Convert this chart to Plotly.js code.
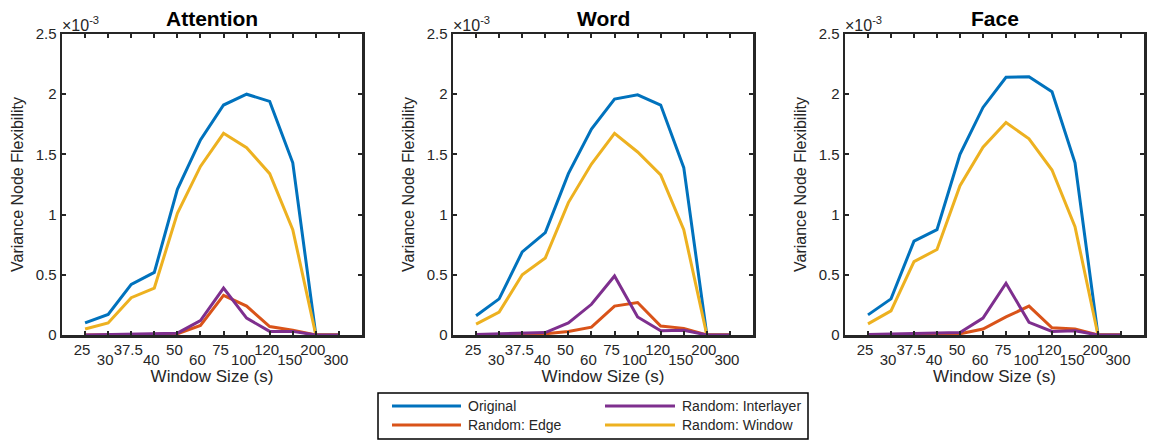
<!DOCTYPE html>
<html>
<head>
<meta charset="utf-8">
<script src="https://cdn.plot.ly/plotly-3.0.1.min.js"></script>
<style>html,body{margin:0;padding:0;background:#fff;}#chart{width:1149px;height:441px;}</style>
</head>
<body>
<div id="chart"></div>
<script>
// ---- data ----
const windowSizes = ["25","30","37.5","40","50","60","75","100","120","150","200","300"];
const panelTitles = ["Attention","Word","Face"];
const seriesNames = ["Original","Random: Edge","Random: Interlayer","Random: Window"];

// values in units of 1e-3
const attentionOriginal   = [0.10,0.17,0.42,0.52,1.21,1.62,1.91,2.00,1.94,1.43,0,0];
const attentionEdge       = [0.00,0.00,0.005,0.005,0.01,0.08,0.33,0.24,0.07,0.04,0,0];
const attentionInterlayer = [0.00,0.003,0.01,0.01,0.015,0.12,0.39,0.14,0.03,0.03,0,0];
const attentionWindow     = [0.05,0.10,0.31,0.39,1.01,1.40,1.675,1.555,1.34,0.875,0,0];

const wordOriginal   = [0.16,0.30,0.69,0.85,1.34,1.71,1.96,1.995,1.91,1.39,0,0];
const wordEdge       = [0.00,0.003,0.008,0.01,0.03,0.065,0.24,0.27,0.075,0.055,0,0];
const wordInterlayer = [0.005,0.01,0.02,0.02,0.10,0.255,0.49,0.15,0.035,0.04,0,0];
const wordWindow     = [0.09,0.19,0.50,0.64,1.10,1.42,1.675,1.52,1.33,0.875,0,0];

const faceOriginal   = [0.167,0.30,0.78,0.875,1.50,1.89,2.14,2.145,2.02,1.43,0,0];
const faceEdge       = [0.00,0.00,0.005,0.005,0.01,0.05,0.15,0.24,0.06,0.05,0,0];
const faceInterlayer = [0.005,0.008,0.015,0.02,0.02,0.14,0.43,0.105,0.03,0.035,0,0];
const faceWindow     = [0.092,0.20,0.61,0.71,1.24,1.56,1.765,1.63,1.37,0.90,0,0];

const yTickVals = [0,0.5,1,1.5,2,2.5];
const yTickText = ["0","0.5","1","1.5","2","2.5"];

// ---- styling ----
const colors = {"Original":"#0072BD","Random: Edge":"#D95319","Random: Interlayer":"#7E2F8E","Random: Window":"#EDB120"};
const FONT = "Liberation Sans, Arial, Helvetica, sans-serif";
const TXT = "#262626";
const W = 1149, H = 441;
const px = v => v / W;
const py = v => 1 - v / H;

const panels = [
  {data:{"Original":attentionOriginal,"Random: Edge":attentionEdge,"Random: Interlayer":attentionInterlayer,"Random: Window":attentionWindow}, x0:62, x1:362},
  {data:{"Original":wordOriginal,"Random: Edge":wordEdge,"Random: Interlayer":wordInterlayer,"Random: Window":wordWindow}, x0:453, x1:753},
  {data:{"Original":faceOriginal,"Random: Edge":faceEdge,"Random: Interlayer":faceInterlayer,"Random: Window":faceWindow}, x0:845, x1:1144}
];
const yTop = 34, yBot = 335;
const drawOrder = ["Original","Random: Window","Random: Edge","Random: Interlayer"];
const xIdx = windowSizes.map((s, i) => i);
const xRange = [-1, windowSizes.length];

const traces = [];
const layout = {
  width: W, height: H,
  margin: {l:0,r:0,t:0,b:0},
  paper_bgcolor: "#fff", plot_bgcolor: "#fff",
  showlegend: false,
  font: {family: FONT, color: TXT, size: 15},
  annotations: [], shapes: []
};

panels.forEach((p, k) => {
  const sfx = k === 0 ? "" : String(k+1);
  const osfx = String(k+4);
  drawOrder.forEach(name => {
    traces.push({
      type: "scatter", mode: "lines", name: name,
      x: xIdx, y: p.data[name],
      xaxis: "x"+sfx, yaxis: "y"+sfx,
      line: {color: colors[name], width: 3},
      hoverinfo: "y+name"
    });
  });
  // main x axis: ticks + upper row of labels
  layout["xaxis"+sfx] = {
    domain: [px(p.x0), px(p.x1)], anchor: "y"+sfx,
    range: xRange,
    tickmode: "array", tickvals: xIdx,
    ticktext: windowSizes.map((c,i) => i % 2 ? "" : c),
    tickangle: 0,
    ticks: "inside", ticklen: 4, tickwidth: 2, tickcolor: TXT,
    ticklabelshift: -3, ticklabelstandoff: -1,
    showline: true, linewidth: 2.5, linecolor: TXT, mirror: "ticks",
    showgrid: false, zeroline: false,
    tickfont: {family: FONT, size: 15, color: TXT},
    title: {text: "Window Size (s)", font: {family: FONT, size: 17, color: TXT}, standoff: 14},
    automargin: false
  };
  // overlay x axis: lower (staggered) row of labels
  layout["xaxis"+osfx] = {
    domain: [px(p.x0), px(p.x1)], anchor: "y"+sfx, overlaying: "x"+sfx,
    matches: "x"+sfx, range: xRange,
    tickmode: "array",
    tickvals: xIdx.filter(i => i % 2),
    ticktext: windowSizes.filter((c,i) => i % 2),
    tickangle: 0, ticks: "", showline: false, showgrid: false, zeroline: false,
    ticklabelshift: -3, ticklabelstandoff: 14,
    tickfont: {family: FONT, size: 15, color: TXT},
    automargin: false
  };
  layout["yaxis"+sfx] = {
    domain: [py(yBot), py(yTop)], anchor: "x"+sfx,
    range: [0, 2.5],
    tickmode: "array", tickvals: yTickVals, ticktext: yTickText,
    ticks: "inside", ticklen: 4, tickwidth: 2, tickcolor: TXT,
    showline: true, linewidth: 2.5, linecolor: TXT, mirror: "ticks",
    showgrid: false, zeroline: false,
    tickfont: {family: FONT, size: 15, color: TXT},
    title: {text: "Variance Node Flexibility", font: {family: FONT, size: 16, color: TXT}, standoff: 8},
    automargin: false
  };
  layout.annotations.push({
    text: "<b>"+panelTitles[k]+"</b>", xref: "paper", yref: "paper",
    x: px((p.x0+p.x1)/2), y: py(18), xanchor: "center", yanchor: "middle",
    showarrow: false, font: {family: FONT, size: 21, color: "#000"}
  });
  layout.annotations.push({
    text: "×10<sup>-3</sup>", xref: "paper", yref: "paper",
    x: px(p.x0-2), y: py(36), xanchor: "left", yanchor: "bottom",
    showarrow: false, font: {family: FONT, size: 16, color: TXT}
  });
});

// dummy traces so overlay axes are drawn
panels.forEach((p, k) => {
  const sfx = k === 0 ? "" : String(k+1);
  traces.push({type:"scatter", mode:"none", x:[xIdx[0]], y:[0], xaxis:"x"+String(k+4), yaxis:"y"+sfx, hoverinfo:"skip", showlegend:false});
});

// ---- legend (manual, two columns) ----
const legBox = {x0:378, x1:808, y0:393, y1:439};
layout.shapes.push({type:"rect", xref:"paper", yref:"paper",
  x0:px(legBox.x0), x1:px(legBox.x1), y0:py(legBox.y1), y1:py(legBox.y0),
  line:{color:"#000", width:1.5}, fillcolor:"#fff", layer:"above"});
const legPos = [
  {lx0:392, lx1:461, tx:466, y:406},
  {lx0:392, lx1:461, tx:466, y:425},
  {lx0:605, lx1:675, tx:680, y:406},
  {lx0:605, lx1:675, tx:680, y:425}
];
seriesNames.forEach((name, i) => {
  const q = legPos[i];
  layout.shapes.push({type:"line", xref:"paper", yref:"paper",
    x0:px(q.lx0), x1:px(q.lx1), y0:py(q.y), y1:py(q.y),
    line:{color:colors[name], width:3}, layer:"above"});
  layout.annotations.push({text:name, xref:"paper", yref:"paper",
    x:px(q.tx), y:py(q.y), xanchor:"left", yanchor:"middle", showarrow:false,
    font:{family:FONT, size:14, color:TXT}});
});

Plotly.newPlot("chart", traces, layout, {displayModeBar:false, staticPlot:true});
</script>
</body>
</html>
